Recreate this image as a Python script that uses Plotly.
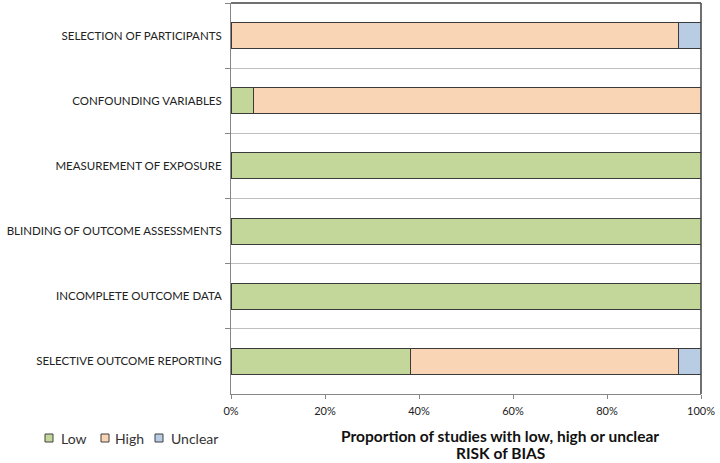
import plotly.graph_objects as go

categories = [
    "SELECTION OF PARTICIPANTS",
    "CONFOUNDING VARIABLES",
    "MEASUREMENT OF EXPOSURE",
    "BLINDING OF OUTCOME ASSESSMENTS",
    "INCOMPLETE OUTCOME DATA",
    "SELECTIVE OUTCOME REPORTING",
]
low = [0.0, 4.8, 100.0, 100.0, 100.0, 38.1]
high = [95.2, 95.2, 0.0, 0.0, 0.0, 57.1]
unclear = [4.8, 0.0, 0.0, 0.0, 0.0, 4.8]
x_ticks = [0, 20, 40, 60, 80, 100]
x_labels = ["0%", "20%", "40%", "60%", "80%", "100%"]
series_names = ["Low", "High", "Unclear"]

colors = {"Low": "#c4d79b", "High": "#fad5b5", "Unclear": "#b8cce4"}
font_family = "Lato, 'Open Sans', sans-serif"

W, H = 720, 463
L, R, T, B = 231, 19, 3, 69
pw, ph = W - L - R, H - T - B


def px_x(px):
    return (px - L) / pw


def px_y(py):
    return (H - B - py) / ph


fig = go.Figure()
for name, vals in zip(series_names, [low, high, unclear]):
    fig.add_trace(go.Bar(
        y=categories, x=vals, name=name, orientation="h",
        marker=dict(color=colors[name], line=dict(color="#3a3a3a", width=1)),
        width=0.4, showlegend=False,
    ))

fig.update_layout(
    barmode="stack",
    width=W, height=H,
    margin=dict(l=L, r=R, t=T, b=B, autoexpand=False),
    paper_bgcolor="white", plot_bgcolor="white",
    font=dict(family=font_family, size=11.5, color="#222222"),
    showlegend=False,
    xaxis=dict(range=[0, 100], tickvals=x_ticks, ticktext=x_labels, automargin=False,
               showgrid=False, zeroline=False, ticks="outside", ticklen=4,
               tickcolor="#868686", showline=True, linecolor="#868686", mirror=False,
               ticklabelstandoff=3,
               tickfont=dict(size=11, color="#222222")),
    yaxis=dict(type="category", categoryorder="array", categoryarray=categories,
               autorange="reversed", tickson="boundaries", ticks="outside", ticklen=5,
               tickcolor="#868686", showgrid=True, gridcolor="#bfbfbf", gridwidth=1,
               showline=True, linecolor="#868686", zeroline=False, automargin=False,
               ticklabelstandoff=6,
               tickfont=dict(size=11.5, color="#222222")),
)

# top and right frame lines
fig.add_shape(type="line", xref="paper", yref="paper", x0=0, x1=1, y0=1, y1=1,
              line=dict(color="#404040", width=1.5))
fig.add_shape(type="line", xref="paper", yref="paper", x0=1, x1=1, y0=0, y1=1,
              line=dict(color="#404040", width=1.5))

# custom legend (compact, like the original)
legend_sq_px = [45, 101, 155]
legend_txt_px = [59, 113, 169]
for name, sx, tx in zip(series_names, legend_sq_px, legend_txt_px):
    fig.add_shape(type="rect", xref="paper", yref="paper",
                  x0=px_x(sx), x1=px_x(sx + 8), y0=px_y(442), y1=px_y(434),
                  fillcolor=colors[name], line=dict(color="#404040", width=1))
    fig.add_annotation(text=name, xref="paper", yref="paper", x=px_x(tx), y=px_y(438.5),
                       xanchor="left", yanchor="middle", showarrow=False,
                       font=dict(size=14, color="#333333"))

# x-axis title (two lines, offset to the right as in the original)
fig.add_annotation(text="<b>Proportion of studies with low, high or unclear</b>",
                   xref="paper", yref="paper", x=px_x(500), y=px_y(436),
                   xanchor="center", yanchor="middle", showarrow=False, borderpad=0,
                   font=dict(size=15.5, color="#111111"))
fig.add_annotation(text="<b>RISK of BIAS</b>",
                   xref="paper", yref="paper", x=px_x(500), y=px_y(463),
                   xanchor="center", yanchor="bottom", showarrow=False, borderpad=0,
                   font=dict(size=15.5, color="#111111"))

fig.write_html("out.html", config={"displayModeBar": False},
               post_script="document.body.style.margin='0';")
